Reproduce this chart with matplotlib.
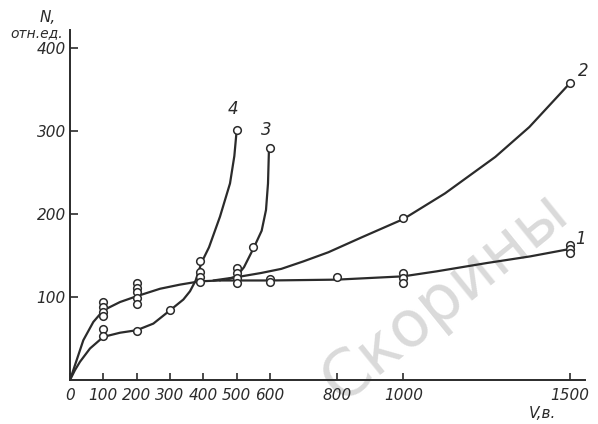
import numpy as np
import matplotlib.pyplot as plt

# values (V in volts, N in rel. units)
tick_v = [0, 100, 200, 300, 400, 500, 600, 800, 1000, 1500]
tick_n = [100, 200, 300, 400]

# common rising part of curves 1-3
base_v = [0, 10, 20, 40, 70, 100, 150, 200, 270, 330, 390, 450]
base_n = [0, 12, 24, 48, 70, 84, 94, 101, 110, 115, 119, 120]

c1_v = [450, 500, 600, 800, 1000, 1100, 1250, 1380, 1500]
c1_n = [120, 120, 120, 121, 125, 131, 141, 149, 158]

c2_v = [430, 500, 573, 634, 700, 775, 875, 1000, 1125, 1276, 1378, 1500]
c2_n = [120, 124, 129, 134, 143, 154, 172, 194, 225, 269, 305, 358]

c3_v = [470, 500, 522, 552, 575, 588, 594, 597]
c3_n = [121, 125, 136, 160, 180, 205, 237, 280]

# lower curve from the origin, continuing as curve 4
c4_v = [0, 15, 30, 60, 100, 150, 200, 250, 300, 340, 360, 377, 395, 417, 450, 480, 493, 500]
c4_n = [0, 12, 22, 38, 52, 57, 60, 68, 84, 97, 107, 120, 142, 160, 197, 237, 270, 301]

# measured points (open circles)
pts_v = [100, 100, 100, 100, 100, 100,
         200, 200, 200, 200, 200, 200,
         300,
         390, 390, 390, 390,
         500, 500, 500, 500, 500, 550,
         600, 600, 600,
         800,
         1000, 1000, 1000, 1000,
         1500, 1500, 1500, 1500]
pts_n = [94, 88, 82, 77, 61, 53,
         117, 111, 106, 99, 92, 59,
         85,
         143, 130, 124, 118,
         301, 135, 129, 123, 117, 160,
         280, 122, 118,
         124,
         195, 129, 123, 117,
         358, 163, 158, 153]

curve_labels = ['1', '2', '3', '4']
label_pos = [(1530, 170), (1540, 372), (590, 302), (490, 327)]

line_col = '#2b2b2b'

fig = plt.figure(figsize=(5.98, 4.24), dpi=100)
ax = fig.add_axes([70 / 598, 44 / 424, 515 / 598, 350 / 424])

# faint library watermark
ax.text(1125, 100, 'Скорины', rotation=39, fontsize=46, color='#dadada',
        ha='center', va='center', zorder=0, family='DejaVu Sans', clip_on=False)

for v, n in [(base_v, base_n), (c1_v, c1_n), (c2_v, c2_n), (c3_v, c3_n), (c4_v, c4_n)]:
    ax.plot(v, n, color=line_col, lw=1.6, solid_capstyle='round', zorder=2)

ax.plot(pts_v, pts_n, 'o', ms=5.5, mfc='white', mec=line_col, mew=1.1,
        linestyle='none', zorder=3)

for lab, (x, y) in zip(curve_labels, label_pos):
    ax.text(x, y, lab, fontsize=12, style='italic', color=line_col,
            ha='center', va='center')

ax.set_xlim(0, 1545)
ax.set_ylim(0, 422)
ax.spines['top'].set_visible(False)
ax.spines['right'].set_visible(False)
for s in ['left', 'bottom']:
    ax.spines[s].set_color(line_col)
    ax.spines[s].set_linewidth(1.4)

ax.set_xticks(tick_v)
ax.set_xticklabels([str(t) for t in tick_v], fontsize=11, style='italic', color=line_col)
ax.set_yticks(tick_n)
ax.set_yticklabels([str(t) for t in tick_n], fontsize=11, style='italic', color=line_col)
ax.tick_params(axis='x', direction='in', length=5, width=1.2, color=line_col, pad=6)
ax.tick_params(axis='y', direction='in', length=6, width=1.2, color=line_col, pad=3)

fig.text(48 / 598, 1 - 17 / 424, 'N,', fontsize=11, style='italic', color=line_col,
         ha='center', va='center')
fig.text(37 / 598, 1 - 33 / 424, 'отн.ед.', fontsize=10, style='italic', color=line_col,
         ha='center', va='center')
fig.text(542 / 598, 1 - 413 / 424, 'V,в.', fontsize=11, style='italic', color=line_col,
         ha='center', va='center')

fig.savefig('out.png', dpi=100)
